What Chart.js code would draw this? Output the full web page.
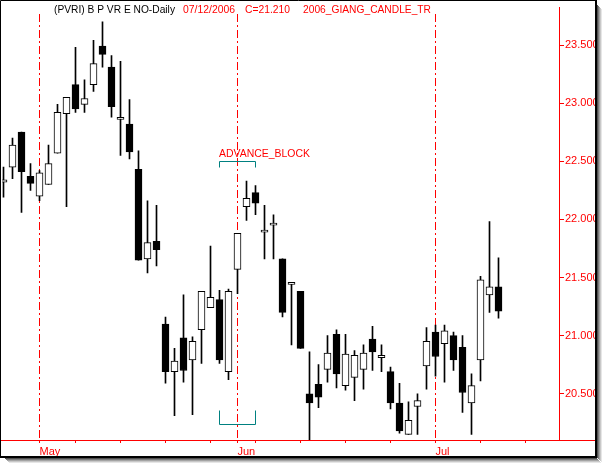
<!DOCTYPE html>
<html>
<head>
<meta charset="utf-8">
<script src="https://cdn.jsdelivr.net/npm/chart.js@4.4.0/dist/chart.umd.min.js"></script>
<style>
  html, body { margin: 0; padding: 0; background: #fff; }
  canvas { display: block; }
</style>
</head>
<body>
<canvas id="chart" width="604" height="466"></canvas>
<script>
// Daily candles, PVRI, late April to 07/12/2006 (one entry per trading day)
const open  = [22.32, 22.45, 22.75, 22.37, 22.20, 22.30, 22.57, 22.91, 23.16, 22.99,
               23.16, 23.49, 23.31, 22.86, 22.82, 22.43, 21.66, 21.81, 21.10, 20.69,
               20.98, 20.79, 21.05, 21.24, 21.31, 20.69, 21.57, 22.11, 22.23, 21.89,
               21.95, 21.66, 21.44, 21.38, 20.50, 20.58, 20.71, 21.01, 20.57, 20.64,
               20.71, 20.97, 20.81, 20.69, 20.42, 20.15, 20.39, 20.74, 21.03, 20.93,
               21.00, 20.90, 20.42, 20.79, 21.35, 21.42];
const high  = [22.45, 22.70, 22.75, 22.48, 22.42, 22.64, 22.99, 23.05, 23.48, 23.20,
               23.54, 23.70, 23.41, 23.36, 23.03, 22.59, 22.16, 22.12, 21.16, 20.89,
               21.35, 20.99, 21.38, 21.77, 21.39, 21.40, 21.88, 22.33, 22.29, 22.12,
               22.04, 21.66, 21.44, 21.38, 20.86, 20.75, 21.00, 21.05, 21.01, 20.87,
               20.92, 21.08, 20.92, 20.73, 20.59, 20.43, 20.50, 21.07, 21.09, 21.09,
               21.03, 21.00, 20.67, 21.51, 21.98, 21.67];
const low   = [22.19, 22.35, 22.06, 22.25, 22.16, 22.30, 22.57, 22.11, 22.92, 22.92,
               23.10, 23.31, 22.88, 22.55, 22.52, 21.65, 21.54, 21.60, 20.59, 20.31,
               20.60, 20.32, 20.76, 21.24, 20.76, 20.62, 21.36, 21.99, 22.04, 21.66,
               21.66, 21.16, 20.92, 20.89, 20.10, 20.38, 20.60, 20.55, 20.53, 20.44,
               20.54, 20.70, 20.69, 20.37, 20.16, 20.15, 20.15, 20.54, 20.65, 20.60,
               20.70, 20.34, 20.15, 20.61, 21.20, 21.15];
const close = [22.34, 22.64, 22.41, 22.31, 22.40, 22.48, 22.92, 23.05, 22.95, 23.04,
               23.34, 23.42, 22.97, 22.86, 22.58, 21.65, 21.80, 21.74, 20.69, 20.78,
               20.70, 20.95, 21.38, 21.33, 20.79, 21.38, 21.88, 22.18, 22.14, 21.89,
               21.95, 21.20, 21.44, 20.89, 20.42, 20.47, 20.85, 20.67, 20.84, 20.83,
               20.85, 20.86, 20.83, 20.42, 20.18, 20.27, 20.44, 20.95, 20.82, 21.04,
               20.79, 20.51, 20.57, 21.48, 21.42, 21.21];

// x axis: month starts and the 5-day ticks (candle index)
const monthIdx = [4, 26, 48];
const monthNames = ['May', 'Jun', 'Jul'];
const weekIdx = [8, 13, 18, 23, 28, 33, 38, 43, 53, 58];
const yTicks = [20.5, 21.0, 21.5, 22.0, 22.5, 23.0, 23.5];

// pattern marker
const patternName = 'ADVANCE_BLOCK';
const patternFrom = 24, patternTo = 28;
const patternTop = 22.5, patternBottom = 20.237;

const titleParts = [
  { text: '(PVRI) B P VR E NO-Daily', x: 54, w: 121, color: '#000000' },
  { text: '07/12/2006', x: 183, w: 52, color: '#ff0000' },
  { text: 'C=21.210', x: 245, w: 45, color: '#ff0000' },
  { text: '2006_GIANG_CANDLE_TR', x: 303, w: 128, color: '#ff0000' }
];

const RED = '#ff0000';
const FONT = '11px "Liberation Sans", Arial, sans-serif';

Chart.defaults.font.family = '"Liberation Sans", Arial, sans-serif';
Chart.defaults.font.size = 11;

const wickData = high.map((h, i) => ({ x: i, y: [low[i], h] }));
const bodyData = open.map((o, i) => ({ x: i, y: [Math.min(o, close[i]), Math.max(o, close[i])] }));
const bodyColors = open.map((o, i) => close[i] >= o ? '#ffffff' : '#000000');

// text squeezed to a given width (the original uses a narrow bitmap font)
function fitText(ctx, text, x, y, w) {
  const m = ctx.measureText(text).width;
  const k = Math.min(1, w / m);
  ctx.save();
  ctx.translate(x, y);
  ctx.scale(k, 1);
  ctx.fillText(text, 0, 0);
  ctx.restore();
}

const overlayPlugin = {
  id: 'overlay',
  beforeDatasetsDraw(chart) {
    const { ctx, chartArea, scales: { x } } = chart;
    // dash-dot month separators, drawn as 1px red segments
    const pattern = [8, 3, 2, 3];
    ctx.save();
    ctx.fillStyle = RED;
    monthIdx.forEach(i => {
      const px = Math.floor(x.getPixelForValue(i));
      let yy = 14, p = 0;
      while (yy < chartArea.bottom) {
        const len = Math.min(pattern[p], chartArea.bottom - yy);
        if (p % 2 === 0) ctx.fillRect(px, yy, 1, len);
        yy += pattern[p];
        p = (p + 1) % pattern.length;
      }
    });
    ctx.restore();
  },
  afterDraw(chart) {
    const { ctx, chartArea, scales: { x, y } } = chart;
    ctx.save();

    // full-width bottom axis line
    ctx.strokeStyle = RED;
    ctx.lineWidth = 1;
    ctx.beginPath();
    ctx.moveTo(0, chartArea.bottom + 0.5);
    ctx.lineTo(596, chartArea.bottom + 0.5);
    ctx.stroke();

    // pattern brackets
    const x0 = Math.floor(x.getPixelForValue(patternFrom)) + 0.5;
    const x1 = Math.floor(x.getPixelForValue(patternTo)) + 0.5;
    const yt = Math.round(y.getPixelForValue(patternTop)) + 0.5;
    const yb = Math.round(y.getPixelForValue(patternBottom)) + 0.5;
    ctx.strokeStyle = '#008080';
    ctx.beginPath();
    ctx.moveTo(x0, yt + 6); ctx.lineTo(x0, yt); ctx.lineTo(x1, yt); ctx.lineTo(x1, yt + 6);
    ctx.moveTo(x0, yb - 14); ctx.lineTo(x0, yb); ctx.lineTo(x1, yb); ctx.lineTo(x1, yb - 14);
    ctx.stroke();

    ctx.font = FONT;
    ctx.textBaseline = 'alphabetic';
    ctx.fillStyle = RED;
    fitText(ctx, patternName, x0 - 0.5, yt - 4.5, 91);

    // title
    titleParts.forEach(p => {
      ctx.fillStyle = p.color;
      fitText(ctx, p.text, p.x, 12.5, p.w);
    });

    // outside of the frame + shadow
    ctx.fillStyle = '#ffffff';
    ctx.fillRect(597, 0, 7, 466);
    ctx.fillRect(0, 458, 604, 8);
    const shades = ['#505050', '#7c7c7c', '#a4a4a4', '#c8c8c8', '#e6e6e6'];
    shades.forEach((c, s) => {
      ctx.fillStyle = c;
      ctx.fillRect(597 + s, 5 + s, 1, 453);
      ctx.fillRect(5 + s, 458 + s, 592, 1);
    });

    // frame
    ctx.strokeStyle = '#000000';
    ctx.lineWidth = 1;
    ctx.beginPath();
    ctx.moveTo(0.5, 457); ctx.lineTo(0.5, 0.5); ctx.lineTo(596, 0.5);
    ctx.stroke();
    ctx.lineWidth = 2;
    ctx.beginPath();
    ctx.moveTo(596, 0); ctx.lineTo(596, 457); ctx.lineTo(0, 457);
    ctx.stroke();
    ctx.restore();
  }
};

new Chart(document.getElementById('chart').getContext('2d'), {
  type: 'bar',
  data: {
    datasets: [
      {
        data: bodyData,
        backgroundColor: bodyColors,
        borderColor: '#000000',
        borderWidth: 1,
        borderSkipped: false,
        barThickness: 7,
        minBarLength: 2,
        grouped: false,
        order: 0
      },
      {
        data: wickData,
        backgroundColor: '#000000',
        borderWidth: 0,
        barThickness: 1,
        grouped: false,
        order: 1
      }
    ]
  },
  options: {
    responsive: false,
    animation: false,
    layout: { padding: { left: 2, top: 1, right: 8, bottom: 8 } },
    plugins: {
      legend: { display: false },
      tooltip: { enabled: false }
    },
    scales: {
      x: {
        type: 'linear',
        offset: false,
        min: -1 / 6,
        max: -1 / 6 + 557 / 9,
        afterBuildTicks: axis => {
          axis.ticks = monthIdx.concat(weekIdx).sort((a, b) => a - b).map(v => ({ value: v }));
        },
        afterFit: axis => { axis.height = 18; },
        grid: { drawOnChartArea: false, offset: false, color: RED, tickLength: 3 },
        border: { color: RED },
        ticks: {
          color: RED,
          align: 'start',
          padding: 2,
          autoSkip: false,
          maxRotation: 0,
          callback: v => {
            const m = monthIdx.indexOf(v);
            return m >= 0 ? monthNames[m] : '';
          }
        }
      },
      y: {
        position: 'right',
        min: 23.5 - 401 / 118,
        max: 23.5 + 38 / 118,
        afterBuildTicks: axis => { axis.ticks = yTicks.map(v => ({ value: v })); },
        afterFit: axis => { axis.width = 37; },
        grid: { drawOnChartArea: false, color: RED, tickLength: 5 },
        border: { color: RED },
        ticks: {
          color: RED,
          padding: 1,
          callback: v => v.toFixed(3)
        }
      }
    }
  },
  plugins: [overlayPlugin]
});
</script>
</body>
</html>
